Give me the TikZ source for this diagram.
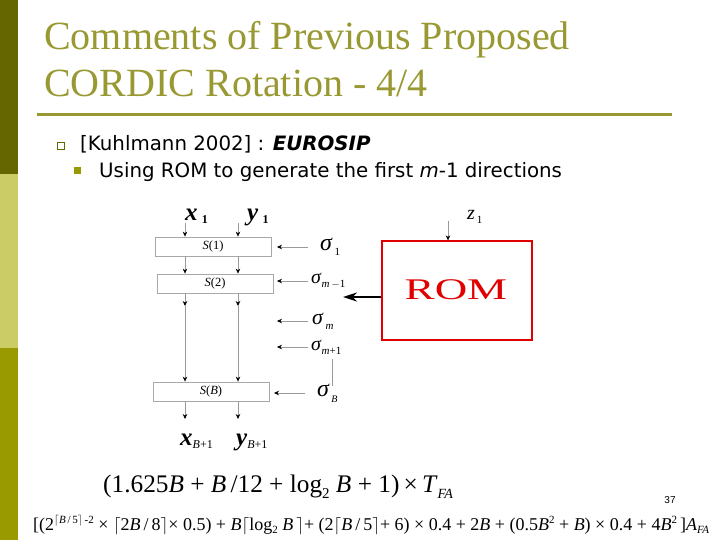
\documentclass[tikz,border=0pt]{standalone}
\usepackage{fontspec}
\setmainfont{Liberation Serif}
\newfontfamily\bulletfont{DejaVu Sans}
\newfontfamily\numfont{Liberation Sans}
\usetikzlibrary{arrows.meta}
\definecolor{bardark}{HTML}{666600}
\definecolor{barlight}{HTML}{CCCC66}
\definecolor{barmid}{HTML}{999900}
\definecolor{titlecol}{HTML}{999933}
\definecolor{boxgray}{HTML}{A8A8A8}
\definecolor{linegray}{HTML}{9A9A9A}
\definecolor{romred}{HTML}{E00000}
\newcommand{\fsz}[1]{\fontsize{#1}{#1}\selectfont}
\newcommand{\ce}{$\lceil$}
\newcommand{\cc}{$\rceil$}
\tikzset{
  titletext/.style={anchor=base west, inner sep=0pt, text=titlecol, font=\fsz{40}},
  bullettext/.style={anchor=base west, inner sep=0pt, font=\bulletfont\fsz{19.8}},
  sbox/.style={draw=boxgray, line width=0.8pt, minimum width=116pt, minimum height=19pt, inner sep=0pt, font=\fsz{12.5}},
  darr/.style={draw=linegray, line width=0.6pt, -{Stealth[black,length=5pt,width=4.5pt]}},
  dline/.style={draw=linegray, line width=0.6pt},
  iolab/.style={inner sep=0pt, anchor=base west, font=\fsz{25}},
  siglab/.style={inner sep=0pt, anchor=west, font=\fsz{24}},
  formula/.style={inner sep=0pt, anchor=base west}
}
\begin{document}
\begin{tikzpicture}[x=1pt,y=-1pt]
\useasboundingbox (0,0) rectangle (720,540);
\fill[white] (0,0) rectangle (720,540);
% left bar
\fill[bardark] (0,0) rectangle (18,174);
\fill[barlight] (0,174) rectangle (18,348);
\fill[barmid] (0,348) rectangle (18,540);
% title
\node[titletext] (t1) at (44,50) {Comments of Previous Proposed};
\node[titletext] (t2) at (44,97) {CORDIC Rotation - 4/4};
\draw[titlecol, line width=3pt] (37,115) -- (672,115);
% bullets
\draw[bardark, line width=1pt] (57.5,143) rectangle (64.5,150);
\node[bullettext] (b1) at (80,150.5) {[Kuhlmann 2002] : \textbf{\textit{EUROSIP}}};
\fill[barmid] (74,167) rectangle (81,174);
\node[bullettext] (b2) at (99,177.5) {Using ROM to generate the first \textit{m}-1 directions};
% stage boxes
\node[sbox] (s1) at (213,246.5) {\textit{S}(1)};
\node[sbox] (s2) at (215,283.5) {\textit{S}(2)};
\node[sbox] (sb) at (211,391.5) {\textit{S}(\textit{B})};
% inputs
\node[iolab] (x1) at (185,221) {\textbf{\textit{x}}\,\fsz{12}\raisebox{-3pt}{\textbf{1}}};
\node[iolab] (y1) at (247,221) {\textbf{\textit{y}}\,\fsz{12}\raisebox{-3pt}{\textbf{1}}};
\coordinate (xin) at (185,223);
\coordinate (yin) at (238,223);
\coordinate (xmid) at (185,306);
\coordinate (ymid) at (238,306);
\coordinate (xout) at (185,419);
\coordinate (yout) at (238,419);
\draw[darr] (xin) -- (xin |- s1.north);
\draw[darr] (yin) -- (yin |- s1.north);
\draw[darr] (xin |- s1.south) -- (xin |- s2.north);
\draw[darr] (yin |- s1.south) -- (yin |- s2.north);
\draw[darr] (xin |- s2.south) -- (xmid);
\draw[darr] (yin |- s2.south) -- (ymid);
\draw[darr] (xmid) -- (xmid |- sb.north);
\draw[darr] (ymid) -- (ymid |- sb.north);
\draw[darr] (xout |- sb.south) -- (xout);
\draw[darr] (yout |- sb.south) -- (yout);
% outputs
\node[iolab] (xo) at (180,445) {\textbf{\textit{x}}\fsz{12}\raisebox{-3pt}{\textit{B}+1}};
\node[iolab] (yo) at (236,445) {\textbf{\textit{y}}\fsz{12}\raisebox{-3pt}{\textit{B}+1}};
% direction inputs
\node[siglab] (sg1) at (320,247) {\textit{σ}\fsz{11}\raisebox{-5pt}{\,1}};
\node[siglab, font=\fsz{20}] (sgm1) at (311,281) {\textit{σ}\fsz{11}\raisebox{-4pt}{\textit{m}\,\(-\)1}};
\node[siglab, font=\fsz{22}] (sgm) at (312,321) {\textit{σ}\fsz{11}\raisebox{-5pt}{\,\textit{m}}};
\node[siglab, font=\fsz{20}] (sgm2) at (311,347) {\textit{σ}\fsz{11}\raisebox{-4pt}{\textit{m}+1}};
\node[siglab] (sgb) at (317,393) {\textit{σ}\fsz{10}\raisebox{-6pt}{\,\textit{B}}};
\coordinate (ra) at (308,0);
\coordinate (rt) at (277,0);
\draw[darr] (ra |- sg1.west) -- (rt |- sg1.west);
\draw[darr] (ra |- sgm1.west) -- (rt |- sgm1.west);
\draw[darr] (ra |- sgm.west) -- (rt |- sgm.west);
\draw[darr] (ra |- sgm2.west) -- (rt |- sgm2.west);
\coordinate (sbs) at (305,393);
\coordinate (sbt) at (274,393);
\draw[darr] (sbs) -- (sbt);
\coordinate (vl1) at (332,359);
\coordinate (vl2) at (332,386);
\draw[dline] (vl1) -- (vl2);
% ROM
\node[draw=romred, line width=1.3pt, minimum width=150pt, minimum height=99pt, inner sep=0pt] (rom) at (457,290.5) {};
\node[inner sep=0pt, text=romred, font=\fsz{30}] (romt) at (456,290) {\scalebox{1.5}[1]{ROM}};
\node[iolab, font=\fsz{20}] (z1) at (467,220) {\textit{z}\fsz{11}\raisebox{-3pt}{\,1}};
\coordinate (zin) at (448,221);
\draw[darr] (zin) -- (zin |- rom.north);
\coordinate (romout) at (343,297);
\draw[line width=2.2pt, -{Stealth[length=14pt,width=9pt]}] (rom.west |- romout) -- (romout);
% formulas
\node[formula, font=\fsz{25.3}] (f1) at (103,492) {(1.625\textit{B} + \textit{B}\,/12 + log\raisebox{-6pt}{\fsz{15}2} \textit{B} + 1)\,×\,\textit{T}\raisebox{-6pt}{\fsz{14}\textit{FA}}};
\node[formula, font=\fsz{18}] (f2) at (33,530) {[(2\raisebox{7pt}{\fsz{11}\ce\textit{B}\,/\,5\cc\,-2} × \ce2\textit{B}\,/\,8\cc × 0.5) + \textit{B}\ce log\raisebox{-3pt}{\fsz{11}2} \textit{B}\,\cc + (2\ce\textit{B}\,/\,5\cc + 6) × 0.4 + 2\textit{B} + (0.5\textit{B}\raisebox{7pt}{\fsz{11}2} + \textit{B}) × 0.4 + 4\textit{B}\raisebox{7pt}{\fsz{11}2}\,]\textit{A}\raisebox{-3pt}{\fsz{11}\textit{FA}}};
\node[inner sep=0pt, font=\numfont\fsz{10}] (pg) at (670,500) {37};
\end{tikzpicture}
\end{document}
